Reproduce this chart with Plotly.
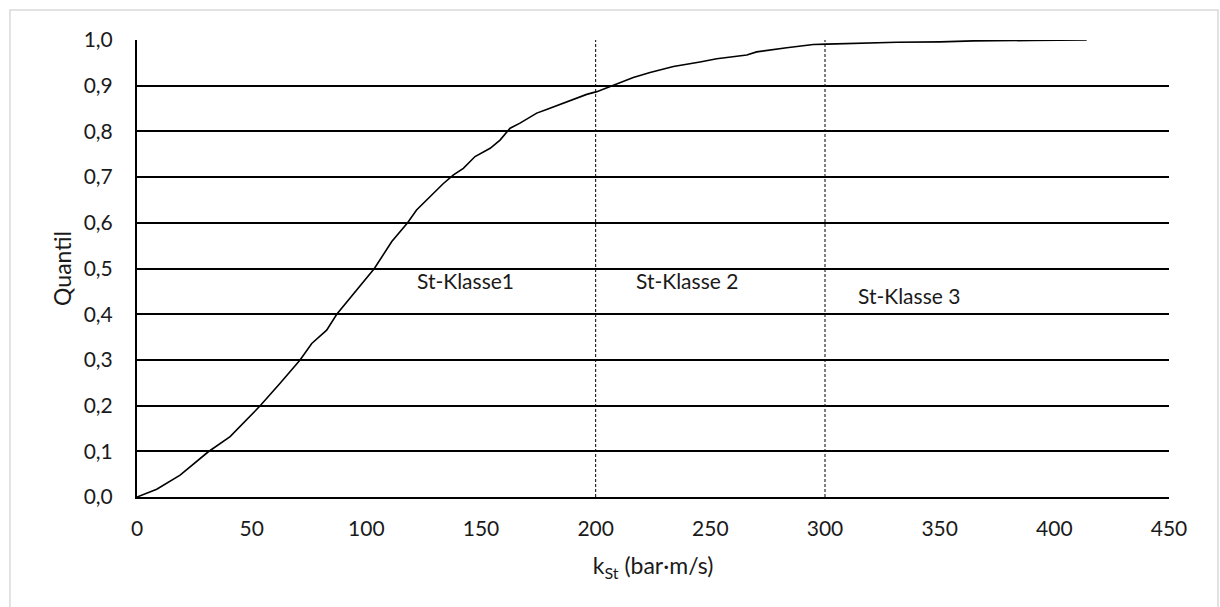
import plotly.graph_objects as go

# Cumulative distribution of kSt values
kst = [0, 8.6, 18.8, 31.1, 40.6, 53.6, 62.4, 71.1, 76.2, 82.7, 87.1, 95.8, 103.5,
       111.1, 118.0, 121.9, 127.8, 133.6, 138.0, 142.3, 147.4, 154.0, 158.3, 162.7,
       167.0, 174.3, 178.6, 187.4, 196.1, 200.5, 207.7, 216.4, 223.7, 233.9, 245.5,
       252.8, 265.9, 270.2, 283.3, 294.9, 300.7, 313.8, 331.3, 350.2, 364.7, 390.0, 414.1]
quantil = [0, 0.017, 0.048, 0.099, 0.132, 0.199, 0.249, 0.300, 0.336, 0.365, 0.400, 0.453, 0.500,
           0.559, 0.600, 0.628, 0.657, 0.686, 0.705, 0.719, 0.745, 0.763, 0.781, 0.807,
           0.818, 0.840, 0.848, 0.864, 0.881, 0.887, 0.901, 0.918, 0.929, 0.942, 0.952,
           0.959, 0.967, 0.974, 0.983, 0.990, 0.991, 0.993, 0.995, 0.996, 0.998, 0.999, 1.0]

class_bounds = [200, 300]
class_labels = ["St-Klasse1", "St-Klasse 2", "St-Klasse 3"]
label_x = [121.2, 216.7, 313.5]
label_y = [0.473, 0.473, 0.44]

FONT = "Lato"
fig = go.Figure()
fig.add_trace(go.Scatter(x=kst, y=quantil, mode="lines",
                         line=dict(color="black", width=1.6), showlegend=False))

shapes = []
for b in class_bounds:
    shapes.append(dict(type="line", xref="x", yref="y", x0=b, x1=b, y0=0, y1=1,
                       line=dict(color="black", width=1, dash="3px,2px")))
# outer light border
shapes.append(dict(type="rect", xref="paper", yref="paper",
                   x0=-0.1231, x1=1.0475, y0=-0.3, y1=1.0656,
                   line=dict(color="#d9d9d9", width=1.5), layer="below"))

annotations = []
for t, x, y in zip(class_labels, label_x, label_y):
    annotations.append(dict(x=x, y=y, xref="x", yref="y", text=t, showarrow=False,
                            xanchor="left", yanchor="middle",
                            font=dict(family=FONT, size=21, color="#1a1a1a")))

fig.update_layout(
    width=1220, height=607,
    margin=dict(l=137, r=51, t=40, b=110),
    paper_bgcolor="white", plot_bgcolor="white",
    separators=",.",
    font=dict(family=FONT, size=21, color="#1a1a1a"),
    shapes=shapes, annotations=annotations,
    xaxis=dict(range=[0, 450], tickvals=list(range(0, 451, 50)), showgrid=False,
               showline=True, linecolor="black", linewidth=2, ticks="", zeroline=False,
               ticklabelstandoff=12, tickfont=dict(family=FONT, size=21),
               title=dict(text="k<sub>St</sub> (bar·m/s)", standoff=19,
                          font=dict(family=FONT, size=23))),
    yaxis=dict(range=[0, 1.0], tickvals=[i / 10 for i in range(11)], tickformat=".1f",
               showgrid=True, gridcolor="black", gridwidth=1.5,
               showline=True, linecolor="black", linewidth=2, ticks="", zeroline=False,
               ticklabelstandoff=18, tickfont=dict(family=FONT, size=21),
               title=dict(text="Quantil", standoff=6, font=dict(family=FONT, size=23))),
)
fig.write_html("out.html")
